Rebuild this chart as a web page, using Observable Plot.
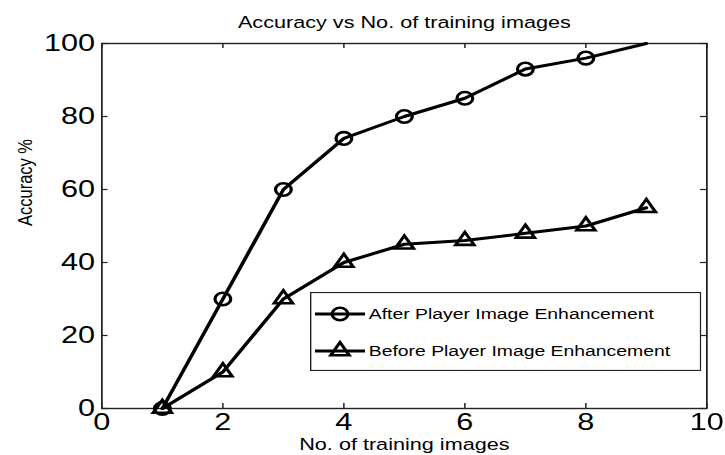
<!DOCTYPE html>
<html><head><meta charset="utf-8">
<script src="https://cdn.jsdelivr.net/npm/d3@7"></script>
<script src="https://cdn.jsdelivr.net/npm/@observablehq/plot@0.6"></script>
<style>
html,body{margin:0;padding:0;background:#fff;}
#wrap{position:relative;width:580px;height:455px;transform:scaleX(1.25);transform-origin:0 0;font-family:"Liberation Sans",Arial,sans-serif;}
#wrap svg{display:block;}
#legend{position:absolute;left:248px;top:292px;}
</style></head><body><div id="wrap"></div>
<script>
const title = "Accuracy vs No. of training images";
const xLabel = "No. of training images";
const yLabel = "Accuracy %";
const trainingImages = [1, 2, 3, 4, 5, 6, 7, 8, 9];
const afterEnh = [0, 30, 60, 74, 80, 85, 93, 96, 100];
const beforeEnh = [0, 10, 30, 40, 45, 46, 48, 50, 55];
const afterMarked = [true, true, true, true, true, true, true, true, false];
const seriesNames = ["After Player Image Enhancement", "Before Player Image Enhancement"];
const xTicks = [0, 2, 4, 6, 8, 10];
const yTicks = [0, 20, 40, 60, 80, 100];

const after = trainingImages.map((x, i) => ({x, y: afterEnh[i], marked: afterMarked[i]}));
const before = trainingImages.map((x, i) => ({x, y: beforeEnh[i]}));

const W = 580, H = 455;
const mL = 81, mR = 15, mT = 43, mB = 47;
const innerW = W - mL - mR, innerH = H - mT - mB;
const tick = 5;

const chart = Plot.plot({
  width: W, height: H,
  marginLeft: mL, marginRight: mR, marginTop: mT, marginBottom: mB,
  style: {fontFamily: "Liberation Sans, Arial, sans-serif", color: "black", background: "white", overflow: "visible"},
  x: {domain: [0, 10]},
  y: {domain: [0, 100]},
  marks: [
    Plot.ruleX(xTicks, {x: d => d, insetTop: innerH - tick, stroke: "#222", strokeWidth: 1.2}),
    Plot.ruleX(xTicks, {x: d => d, insetBottom: innerH - tick, stroke: "#222", strokeWidth: 1.2}),
    Plot.ruleY(yTicks, {y: d => d, insetRight: innerW - tick, stroke: "#222", strokeWidth: 1.2}),
    Plot.ruleY(yTicks, {y: d => d, insetLeft: innerW - tick, stroke: "#222", strokeWidth: 1.2}),
    Plot.frame({stroke: "#222", strokeWidth: 1.4}),
    Plot.axisX(xTicks, {anchor: "bottom", tickSize: 0, tickPadding: 4, fontSize: 24.5, label: null}),
    Plot.axisY(yTicks, {anchor: "left", tickSize: 0, tickPadding: 5.5, fontSize: 24.5, label: null}),
    Plot.text([title], {frameAnchor: "top", dy: -16, lineAnchor: "bottom", fontSize: 17.3}),
    Plot.text([xLabel], {frameAnchor: "bottom", dy: 41, lineAnchor: "bottom", fontSize: 17.3}),
    Plot.text([yLabel], {frameAnchor: "left", dx: -61, rotate: -90, lineAnchor: "middle", fontSize: 16.5}),
    Plot.line(after, {x: "x", y: "y", stroke: "black", strokeWidth: 3}),
    Plot.line(before, {x: "x", y: "y", stroke: "black", strokeWidth: 3}),
    Plot.dot(after.filter(d => d.marked), {x: "x", y: "y", r: 6.3, stroke: "black", strokeWidth: 2.6, fill: "none"}),
    Plot.dot(before, {x: "x", y: "y", symbol: "triangle", r: 5.5, stroke: "black", strokeWidth: 2.6, fill: "none"})
  ]
});
const wrap = document.getElementById("wrap");
wrap.appendChild(chart);

// legend
const LW = 313, LH = 79;
const lg = d3.select(wrap).append("svg").attr("id", "legend").attr("width", LW).attr("height", LH)
  .style("font-family", "Liberation Sans, Arial, sans-serif");
lg.append("rect").attr("x", 0.5).attr("y", 0.5).attr("width", LW - 1).attr("height", LH - 1)
  .attr("fill", "white").attr("stroke", "#222").attr("stroke-width", 1.2);
const rows = [22, 59];
seriesNames.forEach((name, i) => {
  const g = lg.append("g").attr("transform", `translate(0,${rows[i]})`);
  g.append("line").attr("x1", 4).attr("x2", 44).attr("y1", 0).attr("y2", 0).attr("stroke", "black").attr("stroke-width", 3);
  const sym = i === 0 ? d3.symbolCircle : d3.symbolTriangle;
  const r = i === 0 ? 6.3 : 5.5;
  g.append("path").attr("d", d3.symbol(sym, Math.PI * r * r)()).attr("transform", "translate(24,0)")
    .attr("fill", "none").attr("stroke", "black").attr("stroke-width", 2.6);
  g.append("text").attr("x", 47).attr("y", 0).attr("dy", "0.35em").attr("font-size", 15.5).attr("fill", "black").text(name);
});
</script>
</body></html>
